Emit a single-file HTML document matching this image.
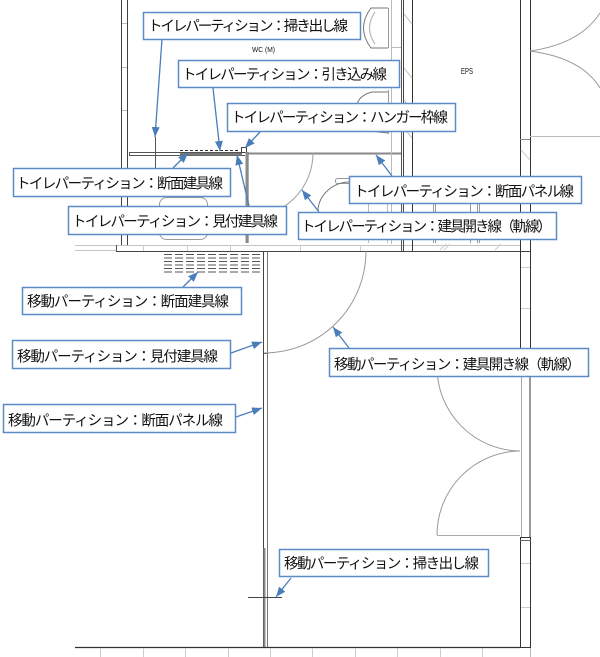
<!DOCTYPE html>
<html><head><meta charset="utf-8"><style>
html,body{margin:0;padding:0;background:#fff;}
svg{display:block;}
text{font-family:"Liberation Sans","Noto Sans CJK JP",sans-serif;fill:#111;}
</style></head><body>
<svg width="600" height="657" viewBox="0 0 600 657" xmlns="http://www.w3.org/2000/svg">
<defs>
<marker id="a" viewBox="0 0 10 8" refX="10" refY="4" markerWidth="10" markerHeight="8" markerUnits="userSpaceOnUse" orient="auto"><path d="M0,0 L10,4 L0,8 z" fill="#4a7ebb"/></marker>
</defs>
<g fill="none" stroke-width="1">
<!-- left wall -->
<line x1="121.5" y1="0" x2="121.5" y2="246" stroke="#404040"/>
<line x1="127.5" y1="0" x2="127.5" y2="246" stroke="#404040"/>
<g stroke="#bbb"><line x1="122" y1="23.5" x2="127" y2="23.5"/><line x1="122" y1="67.5" x2="127" y2="67.5"/><line x1="122" y1="110.5" x2="127" y2="110.5"/></g>
<!-- bottom band of toilet -->
<line x1="75" y1="245.5" x2="520" y2="245.5" stroke="#c4c4c4"/>
<line x1="75" y1="250.5" x2="116" y2="250.5" stroke="#c4c4c4"/>
<line x1="116" y1="251.5" x2="530" y2="251.5" stroke="#454545"/>
<line x1="116.5" y1="245" x2="116.5" y2="252" stroke="#555"/>
<g stroke="#ccc"><line x1="143.5" y1="246" x2="143.5" y2="251"/><line x1="187.5" y1="246" x2="187.5" y2="251"/><line x1="230.5" y1="246" x2="230.5" y2="251"/><line x1="300.5" y1="246" x2="300.5" y2="251"/><line x1="360.5" y1="246" x2="360.5" y2="251"/></g>
<!-- partition -->
<line x1="129" y1="152.5" x2="245" y2="152.5" stroke="#555"/>
<line x1="129" y1="155.5" x2="245" y2="155.5" stroke="#555"/>
<line x1="129.5" y1="152" x2="129.5" y2="156" stroke="#555"/>
<rect x="180" y="153" width="62" height="2.6" fill="#777" stroke="none"/>
<line x1="180" y1="150.5" x2="240" y2="150.5" stroke="#333" stroke-dasharray="3,2"/>
<rect x="241.5" y="147.5" width="5" height="5" stroke="#444" fill="#fff"/>
<rect x="245.5" y="152" width="3.2" height="91" fill="#8a8a8a" stroke="none"/>
<line x1="248" y1="153.5" x2="402" y2="153.5" stroke="#888" stroke-width="2"/>
<line x1="155.5" y1="137" x2="155.5" y2="168" stroke="#555"/>
<!-- door arc toilet -->
<path d="M313,153 A64,64 0 0 1 249,217" stroke="#a0a0a0"/>
<!-- toilet seat -->
<rect x="159.5" y="197.5" width="48" height="42" rx="7" stroke="#999"/>
<!-- right booth fixture -->
<rect x="335.5" y="178.5" width="15" height="5" rx="2" stroke="#999"/>
<path d="M318,210 A32,30 0 0 1 350,182" stroke="#777"/>
<g stroke="#bbb"><line x1="368.5" y1="203" x2="368.5" y2="243"/><line x1="387.5" y1="203" x2="387.5" y2="243"/><line x1="391.5" y1="0" x2="391.5" y2="244"/></g>
<line x1="401.5" y1="0" x2="401.5" y2="251" stroke="#555"/>
<line x1="403.5" y1="0" x2="403.5" y2="251" stroke="#444"/>
<line x1="412.5" y1="0" x2="412.5" y2="251" stroke="#333"/>
<g stroke="#bbb"><line x1="404" y1="14" x2="412" y2="24"/><line x1="404" y1="68" x2="412" y2="78"/><line x1="404" y1="100" x2="412" y2="110"/><line x1="404" y1="128" x2="412" y2="138"/><line x1="392" y1="47.5" x2="401" y2="47.5"/></g>
<!-- urinals -->
<path d="M388,8 L371,8 Q356,28 371,48 L388,48" stroke="#777"/>
<line x1="388.5" y1="8" x2="388.5" y2="48" stroke="#999"/>
<path d="M375,12 Q364,28 375,44" stroke="#aaa"/>
<path d="M388,92 L372,92 Q360,95 357,104" stroke="#777"/>
<path d="M370,131 L388,133" stroke="#777"/>
<line x1="388.5" y1="90" x2="388.5" y2="134" stroke="#999"/>
<!-- EPS interior -->
<g stroke="#999"><line x1="433.5" y1="203" x2="433.5" y2="243"/><line x1="435.5" y1="203" x2="435.5" y2="243"/><line x1="477.5" y1="203" x2="477.5" y2="243"/><line x1="479.5" y1="203" x2="479.5" y2="243"/><line x1="470.5" y1="203" x2="470.5" y2="243"/></g>
<g stroke="#ccc"><line x1="440" y1="250" x2="446" y2="244"/><line x1="444" y1="250" x2="450" y2="244"/><line x1="495" y1="250" x2="501" y2="244"/></g>
<!-- right walls -->
<line x1="520.5" y1="0" x2="520.5" y2="350" stroke="#333"/>
<line x1="530.5" y1="0" x2="530.5" y2="350" stroke="#333"/>
<line x1="521.5" y1="350" x2="521.5" y2="537" stroke="#aaa"/>
<line x1="530" y1="350" x2="530" y2="537" stroke="#9a9a9a" stroke-width="2"/>
<line x1="530.5" y1="647" x2="530.5" y2="657" stroke="#bbb"/>
<rect x="520.5" y="537.5" width="10" height="110" stroke="#333"/>
<line x1="520" y1="540.5" x2="531" y2="540.5" stroke="#666"/>
<line x1="530" y1="136.5" x2="600" y2="136.5" stroke="#bbb"/>
<line x1="520" y1="139.5" x2="530" y2="139.5" stroke="#888"/>
<g stroke="#ccc"><line x1="521" y1="150" x2="530" y2="160"/><line x1="521" y1="225" x2="530" y2="235"/><line x1="521" y1="267.5" x2="530" y2="267.5"/><line x1="521" y1="308.5" x2="530" y2="308.5"/><line x1="521" y1="607.5" x2="530" y2="607.5"/><line x1="521" y1="563.5" x2="530" y2="563.5"/></g>
<path d="M530,51 Q580,44 600,13" stroke="#999"/>
<path d="M530,51 Q582,58 600,88" stroke="#999"/>
<!-- big room -->
<line x1="263.5" y1="251" x2="263.5" y2="647" stroke="#444"/>
<line x1="267.5" y1="251" x2="267.5" y2="647" stroke="#777"/>
<line x1="264.5" y1="548" x2="264.5" y2="647" stroke="#888" stroke-width="2"/>
<line x1="263" y1="353.5" x2="268" y2="353.5" stroke="#555"/>
<path d="M366,251 A102,102 0 0 1 264,353" stroke="#999"/>
<line x1="248" y1="597.5" x2="282" y2="597.5" stroke="#444"/>
<line x1="75" y1="647.5" x2="520" y2="647.5" stroke="#333" stroke-width="1.2"/>
<g stroke="#ccc"><line x1="100.5" y1="648" x2="100.5" y2="657"/><line x1="143.5" y1="648" x2="143.5" y2="657"/><line x1="185.5" y1="648" x2="185.5" y2="657"/><line x1="228.5" y1="648" x2="228.5" y2="657"/><line x1="270.5" y1="648" x2="270.5" y2="657"/><line x1="312.5" y1="648" x2="312.5" y2="657"/><line x1="355.5" y1="648" x2="355.5" y2="657"/><line x1="397.5" y1="648" x2="397.5" y2="657"/><line x1="440.5" y1="648" x2="440.5" y2="657"/><line x1="482.5" y1="648" x2="482.5" y2="657"/></g>
<path d="M437,367 A84,84 0 0 0 520,451" stroke="#999"/>
<path d="M520,451 A84,84 0 0 0 437,535" stroke="#999"/>
<line x1="437" y1="535.5" x2="520" y2="535.5" stroke="#aaa"/>
<!-- stair dashed -->
<g stroke="#555" stroke-dasharray="8,3"><line x1="164" y1="254.5" x2="262" y2="254.5"/><line x1="164" y1="258" x2="262" y2="258"/><line x1="164" y1="261.5" x2="262" y2="261.5"/><line x1="164" y1="265" x2="262" y2="265"/><line x1="164" y1="268.5" x2="262" y2="268.5"/><line x1="164" y1="272" x2="262" y2="272"/></g>
</g>
<text x="252" y="52" font-size="7.5" textLength="23" lengthAdjust="spacingAndGlyphs">WC (M)</text>
<text x="461" y="74" font-size="8" textLength="12" lengthAdjust="spacingAndGlyphs">EPS</text>
<!-- arrows -->
<g stroke="#4a7ebb" stroke-width="1.3" marker-end="url(#a)">
<line x1="162" y1="39" x2="155" y2="137"/>
<line x1="213" y1="88" x2="220" y2="151"/>
<line x1="260" y1="132" x2="245" y2="148"/>
<line x1="173" y1="168" x2="188" y2="153"/>
<line x1="249" y1="206" x2="237" y2="155"/>
<line x1="392" y1="176" x2="376" y2="155"/>
<line x1="319" y1="212" x2="302" y2="190"/>
<line x1="183" y1="287" x2="198" y2="272"/>
<line x1="231" y1="353" x2="262" y2="342"/>
<line x1="236" y1="417" x2="262" y2="408"/>
<line x1="349" y1="348" x2="333" y2="327"/>
<line x1="291" y1="578" x2="276" y2="597"/>
</g>
<!-- label boxes -->
<g fill="#fff" stroke="#5b8cc8" stroke-width="1.5">
<rect x="143.5" y="12.5" width="217" height="27"/>
<rect x="178.5" y="60.5" width="221" height="27"/>
<rect x="227.5" y="103.5" width="228" height="28"/>
<rect x="13.5" y="168.5" width="217" height="28"/>
<rect x="68.5" y="206.5" width="218" height="28"/>
<rect x="349.5" y="176.5" width="232" height="27"/>
<rect x="298.5" y="212.5" width="258" height="27"/>
<rect x="22.5" y="287.5" width="219" height="27"/>
<rect x="12.5" y="340.5" width="218" height="28"/>
<rect x="3.5" y="404.5" width="232" height="28"/>
<rect x="329.5" y="348.5" width="259" height="28"/>
<rect x="279.5" y="549.5" width="209" height="27"/>
</g>
<g font-size="14.5" lengthAdjust="spacingAndGlyphs">
<text x="148" y="31" textLength="200">トイレパーティション：掃き出し線</text>
<text x="182" y="79.5" textLength="205">トイレパーティション：引き込み線</text>
<text x="231" y="122.5" textLength="217">トイレパーティション：ハンガー枠線</text>
<text x="16" y="188.5" textLength="207">トイレパーティション：断面建具線</text>
<text x="72" y="226.5" textLength="206">トイレパーティション：見付建具線</text>
<text x="354" y="196.5" textLength="220">トイレパーティション：断面パネル線</text>
<text x="301" y="231.5" textLength="251">トイレパーティション：建具開き線（軌線）</text>
<text x="27" y="306.5" textLength="202">移動パーティション：断面建具線</text>
<text x="17" y="361.5" textLength="201">移動パーティション：見付建具線</text>
<text x="8" y="425.5" textLength="215">移動パーティション：断面パネル線</text>
<text x="334" y="369.5" textLength="247">移動パーティション：建具開き線（軌線）</text>
<text x="284" y="568.5" textLength="195">移動パーティション：掃き出し線</text>
</g>
</svg>
</body></html>
